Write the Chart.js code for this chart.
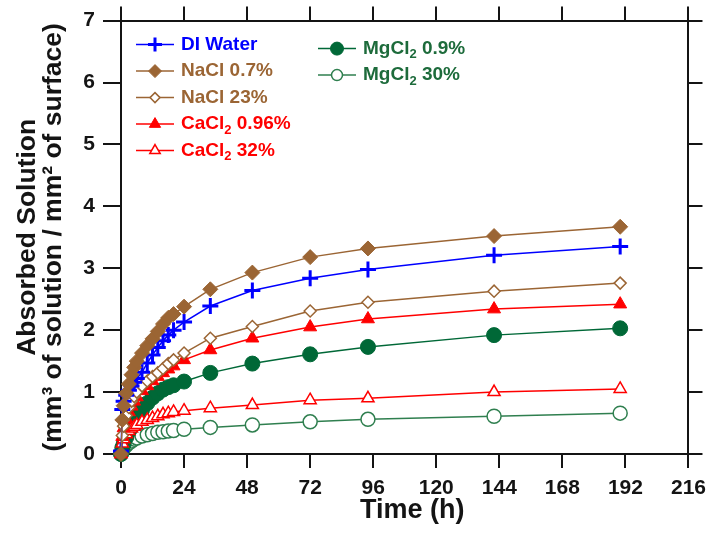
<!DOCTYPE html>
<html><head><meta charset="utf-8">
<script src="https://cdn.jsdelivr.net/npm/chart.js@4/dist/chart.umd.min.js"></script>
<style>html,body{margin:0;padding:0;background:#fff}#wrap{width:714px;height:539px;position:relative}</style>
</head><body><div id="wrap"><canvas id="c"></canvas></div>
<script>
const timeHours = [0, 0.5, 1, 2, 3, 4, 5, 6, 8, 10, 12, 14, 16, 18, 20, 24, 34, 50, 72, 94, 142, 190];
const diWater   = [0.05, 0.72, 0.85, 0.95, 1.03, 1.10, 1.16, 1.22, 1.32, 1.47, 1.60, 1.72, 1.83, 1.92, 2.00, 2.13, 2.39, 2.64, 2.84, 2.98, 3.21, 3.35];
const nacl07    = [0.00, 0.55, 0.78, 0.98, 1.13, 1.28, 1.40, 1.50, 1.63, 1.75, 1.86, 1.98, 2.10, 2.20, 2.26, 2.38, 2.66, 2.93, 3.18, 3.32, 3.52, 3.67];
const nacl23    = [0.00, 0.30, 0.45, 0.62, 0.75, 0.85, 0.93, 1.00, 1.10, 1.18, 1.25, 1.31, 1.38, 1.46, 1.52, 1.63, 1.87, 2.06, 2.31, 2.45, 2.63, 2.76];
const cacl096   = [0.00, 0.28, 0.42, 0.57, 0.68, 0.77, 0.85, 0.92, 1.02, 1.10, 1.18, 1.25, 1.31, 1.37, 1.42, 1.52, 1.68, 1.87, 2.05, 2.18, 2.34, 2.42];
const cacl32    = [0.00, 0.17, 0.24, 0.32, 0.37, 0.41, 0.44, 0.47, 0.52, 0.55, 0.58, 0.61, 0.64, 0.66, 0.68, 0.70, 0.74, 0.79, 0.87, 0.90, 1.00, 1.05];
const mgcl09    = [0.00, 0.10, 0.16, 0.27, 0.37, 0.46, 0.53, 0.60, 0.71, 0.82, 0.91, 0.98, 1.04, 1.08, 1.11, 1.17, 1.31, 1.46, 1.61, 1.73, 1.92, 2.03];
const mgcl30    = [0.00, 0.06, 0.09, 0.14, 0.18, 0.21, 0.24, 0.26, 0.29, 0.31, 0.33, 0.35, 0.36, 0.37, 0.38, 0.40, 0.43, 0.47, 0.52, 0.56, 0.61, 0.66];
const seriesNames = ['DI Water', 'NaCl 0.7%', 'NaCl 23%', 'CaCl2 0.96%', 'CaCl2 32%', 'MgCl2 0.9%', 'MgCl2 30%'];
const xTickStep = 24, xMax = 216;
const yTickStep = 1, yMax = 7;
const xTitle = '  Time (h)';
const yTitle = ['Absorbed Solution', '(mm³ of solution / mm² of surface)'];

const BLUE = '#0000ff', BROWN = '#9b6534', RED = '#ff0000', DGREEN = '#006837', LGREEN = '#2f7f4f';
const FONT = '"Liberation Sans", Arial, Helvetica, sans-serif';
const INK = '#141414';
Chart.defaults.font.family = FONT;

const toXY = arr => arr.map((v, i) => ({x: timeHours[i], y: v}));
const styles = [
  {c: BLUE,   tc: BLUE,     ps: 'cross',   r: 8,   lr: 7,   bg: BLUE,   bw: 3},
  {c: BROWN,  tc: BROWN,    ps: 'rectRot', r: 7.5, lr: 6.5, bg: BROWN,  bw: 1},
  {c: BROWN,  tc: BROWN,    ps: 'rectRot', r: 6,   lr: 5,   bg: '#fff', bw: 1.5},
  {c: RED,    tc: RED,      ps: 'triangle',r: 7.5, lr: 6.5, bg: RED,    bw: 1},
  {c: RED,    tc: RED,      ps: 'triangle',r: 7,   lr: 6,   bg: '#fff', bw: 1.5},
  {c: DGREEN, tc: '#1d6b3b',ps: 'circle',  r: 7.5, lr: 6.5, bg: DGREEN, bw: 1},
  {c: LGREEN, tc: '#1d6b3b',ps: 'circle',  r: 7,   lr: 5.5, bg: '#fff', bw: 1.5}
];
const seriesData = [diWater, nacl07, nacl23, cacl096, cacl32, mgcl09, mgcl30];
const drawOrder = [1, 0, 2, 3, 4, 5, 6];

const datasets = seriesData.map((arr, i) => ({
  label: seriesNames[i],
  data: toXY(arr),
  borderColor: styles[i].c,
  backgroundColor: styles[i].c,
  borderWidth: 1.5,
  pointStyle: styles[i].ps,
  pointRadius: styles[i].r,
  pointBackgroundColor: styles[i].bg,
  pointBorderColor: styles[i].c,
  pointBorderWidth: styles[i].bw,
  tension: 0,
  clip: false,
  order: drawOrder[i],
  _legend: styles[i]
}));

const legendPlugin = {
  id: 'customLegend',
  afterDraw(chart) {
    const ctx = chart.ctx;
    const ca = chart.chartArea;
    chart.data.datasets.forEach((ds, i) => {
      const s = ds._legend;
      const col = i < 5 ? 0 : 1;
      const row = col ? i - 5 : i;
      const x0 = ca.left + (col ? 197 : 15);
      const y = ca.top + (col ? 28 : 24) + row * 26.5;
      ctx.save();
      ctx.strokeStyle = s.c; ctx.lineWidth = 1.5;
      ctx.beginPath(); ctx.moveTo(x0, y); ctx.lineTo(x0 + 38, y); ctx.stroke();
      ctx.fillStyle = s.bg; ctx.strokeStyle = s.c; ctx.lineWidth = s.bw;
      Chart.helpers.drawPoint(ctx, {pointStyle: s.ps, radius: s.lr, borderWidth: s.bw, rotation: 0}, x0 + 19, y);
      ctx.fillStyle = s.tc;
      ctx.textBaseline = 'middle';
      ctx.textAlign = 'left';
      let tx = x0 + 45;
      const m = ds.label.match(/^(.*Cl)2( .*)$/);
      const big = 'bold 19px ' + FONT, small = 'bold 13px ' + FONT;
      if (m) {
        ctx.font = big; ctx.fillText(m[1], tx, y); tx += ctx.measureText(m[1]).width;
        ctx.font = small; ctx.fillText('2', tx, y + 6); tx += ctx.measureText('2').width;
        ctx.font = big; ctx.fillText(m[2], tx, y);
      } else {
        ctx.font = big; ctx.fillText(ds.label, tx, y);
      }
      ctx.restore();
    });
  }
};

const axisLine = {color: INK, width: 2};
const gridOut = len => ({drawOnChartArea: false, tickLength: len, lineWidth: 2, color: INK});
const tickFont = {size: 21, weight: 'bold'};

new Chart(document.getElementById('c'), {
  type: 'line',
  data: {datasets},
  options: {
    responsive: true,
    maintainAspectRatio: false,
    animation: false,
    layout: {padding: {top: 20, right: 19, left: 0, bottom: 0}},
    plugins: {legend: {display: false}, tooltip: {enabled: false}},
    scales: {
      x: {
        type: 'linear', position: 'bottom', min: 0, max: xMax,
        ticks: {stepSize: xTickStep, font: tickFont, color: INK, padding: 8, maxRotation: 0, autoSkip: false},
        grid: gridOut(14), border: axisLine,
        title: {display: true, text: xTitle, color: INK, font: {size: 27, weight: 'bold'}, padding: {top: 0, bottom: 12}},
        afterFit(s) { s.height = 85; }
      },
      xTop: {
        type: 'linear', position: 'top', min: 0, max: xMax,
        ticks: {stepSize: xTickStep, display: false},
        grid: gridOut(14), border: axisLine,
        afterFit(s) { s.height = 0; }
      },
      y: {
        type: 'linear', position: 'left', min: 0, max: yMax,
        ticks: {stepSize: yTickStep, font: tickFont, color: INK, padding: 8},
        grid: gridOut(18), border: axisLine,
        title: {display: true, text: yTitle, color: INK, font: {size: 26.5, weight: 'bold', lineHeight: 1.0}, padding: {top: 14, bottom: 0}},
        afterFit(s) { s.width = 121; }
      },
      yRight: {
        type: 'linear', position: 'right', min: 0, max: yMax,
        ticks: {stepSize: yTickStep, display: false},
        grid: gridOut(14), border: axisLine,
        afterFit(s) { s.width = 0; }
      }
    }
  },
  plugins: [legendPlugin]
});
</script>
</body></html>
